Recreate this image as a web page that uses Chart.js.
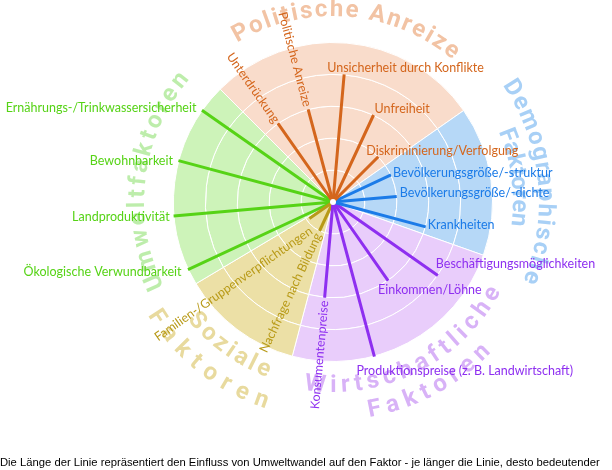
<!DOCTYPE html>
<html lang="de">
<head>
  <meta charset="UTF-8" />
  <title>Umweltwandel und Migrationsfaktoren</title>
  <script src="https://cdn.jsdelivr.net/npm/chart.js"></script>
  <style>
    body {
      margin: 0;
      background: #fff;
    }

    .wrap {
      position: relative;
      width: 612px;
      height: 470px;
    }

    .caption {
      position: absolute;
      left: 0;
      top: 456px;
      font-family: 'Liberation Sans', Arial, sans-serif;
      font-size: 11.25px;
      line-height: 13px;
      color: #000;
      white-space: nowrap;
    }
  </style>
</head>

<body>
  <div class="wrap">
    <canvas id="chart"></canvas>
    <div class="caption">Die Länge der Linie repräsentiert den Einfluss von Umweltwandel auf den Faktor - je länger die Linie, desto bedeutender</div>
  </div>

  <script>
    // Faktorgruppen, im Uhrzeigersinn ab oben links
    const groups = ['Politische Anreize', 'Demographische Faktoren', 'Wirtschaftliche Faktoren', 'Soziale Faktoren', 'Umweltfaktoren'];
    const groupSpans = [100, 54.5, 85.3, 44.4, 75.8]; // Winkel je Sektor in Grad

    // Einzelfaktoren: Gruppe, Richtung (Grad, 0 = rechts, gegen den Uhrzeigersinn), Einfluss 0-5
    const factors = [
      'Unterdrückung', 'Politische Anreize', 'Unsicherheit durch Konflikte', 'Unfreiheit', 'Diskriminierung/Verfolgung',
      'Bevölkerungsgröße/-struktur', 'Bevölkerungsgröße/-dichte', 'Krankheiten',
      'Beschäftigungsmöglichkeiten', 'Einkommen/Löhne', 'Produktionspreise (z. B. Landwirtschaft)', 'Konsumentenpreise',
      'Nachfrage nach Bildung', 'Familien-/Gruppenverpflichtungen',
      'Ökologische Verwundbarkeit', 'Landproduktivität', 'Bewohnbarkeit', 'Ernährungs-/Trinkwassersicherheit'
    ];
    const factorGroup = [0, 0, 0, 0, 0, 1, 1, 1, 2, 2, 2, 2, 3, 3, 4, 4, 4, 4];
    const factorAngles = [125, 105, 85, 65, 45, 25, 5, -15, -35, -55, -75, -95, -115, -145, -155, -175, 165, 145];
    const factorValues = [3, 3, 4, 3, 2, 2, 2, 3, 4, 3, 5, 3, 1, 0.9, 5, 5, 5, 5];
    const rings = [1, 2, 3, 4, 5];

    const fillColors = ['#f9dccb', '#b6d8f7', '#e9cdfb', '#ece0a6', '#cdf3b9'];
    const lineColors = ['#d4661d', '#1b7be8', '#8e2ff0', '#b89a17', '#56d316'];
    const titleColors = ['#f2c3a4', '#a8d0f6', '#d8b2f7', '#e8da9e', '#bdedab'];

    // label placement at the end of each line
    const labelPos = [
      { rot: true, gap: 2, perp: 0 },
      { rot: true, gap: 3, perp: 0 },
      { align: 'left', dx: -17, dy: -7 },
      { align: 'left', dx: 1, dy: -6 },
      { align: 'left', dx: -12, dy: -6 },
      { align: 'left', dx: 2, dy: -2 },
      { align: 'left', dx: 3, dy: -3 },
      { align: 'left', dx: 2, dy: -2 },
      { align: 'left', dx: -2, dy: -11 },
      { align: 'left', dx: -10, dy: 9 },
      { align: 'left', dx: -18, dy: 14 },
      { rot: true, gap: 3, perp: 0 },
      { rot: true, gap: 3, perp: 0 },
      { rot: true, gap: 5, perp: 10 },
      { align: 'right', dx: -6.5, dy: 2.5 },
      { align: 'right', dx: -4, dy: 1 },
      { align: 'right', dx: -5.5, dy: 0 },
      { align: 'right', dx: -5.5, dy: -2 }
    ];

    // curved group titles: radius and start/end angle of each text line
    const titleArcs = [
      [{ r: 192, from: 121, to: 50 }],
      [{ r: 212, from: 34.5, to: -22.5 }, { r: 186, from: 23, to: -7.5 }],
      [{ r: 184, from: -98.8, to: -28 }, { r: 212, from: -80.5, to: -43.5 }],
      [{ r: 181, from: 218.8, to: 249.5 }, { r: 211, from: 211.4, to: 252 }],
      [{ r: 195, from: 206.5, to: 139.5 }]
    ];

    const STEP = 5; // Winkelraster der Speichen
    const slots = Array.from({ length: 360 / STEP }, () => '');
    const slotOf = a => (((90 - a) / STEP) % slots.length + slots.length) % slots.length;

    function drawArcText(ctx, cx, cy, text, r, from, to) {
      const chars = [...text];
      const widths = chars.map(c => ctx.measureText(c).width);
      const total = widths.reduce((a, b) => a + b, 0);
      const span = Math.abs(to - from) * Math.PI / 180 * r;
      const gap = chars.length > 1 ? (span - total) / (chars.length - 1) : 0;
      const dir = to < from ? 1 : -1;
      let s = 0;
      chars.forEach((c, i) => {
        const a = -from * Math.PI / 180 + dir * (s + widths[i] / 2) / r;
        ctx.save();
        ctx.translate(cx + r * Math.cos(a), cy + r * Math.sin(a));
        ctx.rotate(a + dir * Math.PI / 2);
        ctx.fillText(c, 0, 0);
        ctx.restore();
        s += widths[i] + gap;
      });
    }

    const titlePlugin = {
      id: 'titles',
      beforeDatasetsDraw(chart) {
        const { ctx } = chart;
        const scale = chart.scales.r;
        ctx.save();
        ctx.font = 'bold 24px Roboto';
        ctx.textAlign = 'center';
        ctx.textBaseline = 'middle';
        groups.forEach((g, i) => {
          const lines = titleArcs[i].length > 1 ? g.split(' ') : [g];
          ctx.fillStyle = titleColors[i];
          titleArcs[i].forEach((arc, j) => {
            drawArcText(ctx, scale.xCenter, scale.yCenter, lines[j], arc.r, arc.from, arc.to);
          });
        });
        ctx.restore();
      }
    };

    const labelPlugin = {
      id: 'factorLabels',
      afterDatasetsDraw(chart) {
        const { ctx } = chart;
        const scale = chart.scales.r;
        ctx.save();
        ctx.fillStyle = '#fff';
        ctx.beginPath();
        ctx.arc(scale.xCenter, scale.yCenter, 3, 0, Math.PI * 2);
        ctx.fill();

        ctx.font = '12.5px Lato';
        ctx.textBaseline = 'middle';
        factors.forEach((name, i) => {
          const slot = slotOf(factorAngles[i]);
          const pos = labelPos[i];
          ctx.fillStyle = lineColors[factorGroup[i]];
          if (pos.rot) {
            const dist = scale.getDistanceFromCenterForValue(factorValues[i]) + pos.gap;
            const p = scale.getPointPosition(slot, dist);
            ctx.save();
            ctx.translate(p.x, p.y);
            ctx.rotate(p.angle + Math.PI);
            ctx.textAlign = 'right';
            ctx.fillText(name, 0, pos.perp);
            ctx.restore();
          } else {
            const p = scale.getPointPositionForValue(slot, factorValues[i]);
            ctx.textAlign = pos.align;
            ctx.fillText(name, p.x + pos.dx, p.y + pos.dy);
          }
        });
        ctx.restore();
      }
    };

    const sectorSets = rings.map(() => ({
      type: 'pie',
      data: groupSpans,
      backgroundColor: fillColors,
      borderColor: '#fff',
      borderWidth: 1,
      rotation: -45,
      weight: 1,
      order: 10
    }));

    const lineSets = factors.map((name, i) => {
      const data = slots.map(() => 0);
      data[slotOf(factorAngles[i])] = factorValues[i];
      return {
        type: 'radar',
        label: name,
        data: data,
        borderColor: lineColors[factorGroup[i]],
        borderWidth: 3,
        pointRadius: 0,
        fill: false,
        weight: 0,
        order: 0
      };
    });

    new Chart(document.getElementById('chart'), {
      type: 'radar',
      data: {
        labels: slots,
        datasets: [...sectorSets, ...lineSets]
      },
      options: {
        responsive: true,
        maintainAspectRatio: false,
        animation: false,
        events: [],
        layout: { padding: { left: 173, right: 119, top: 42, bottom: 108 } },
        plugins: {
          legend: { display: false },
          tooltip: { enabled: false }
        },
        scales: {
          r: {
            min: 0,
            max: 5,
            startAngle: 0,
            ticks: { display: false, stepSize: 1 },
            grid: { display: false },
            angleLines: { display: false },
            pointLabels: { display: false }
          }
        }
      },
      plugins: [titlePlugin, labelPlugin]
    });
  </script>
</body>
</html>
